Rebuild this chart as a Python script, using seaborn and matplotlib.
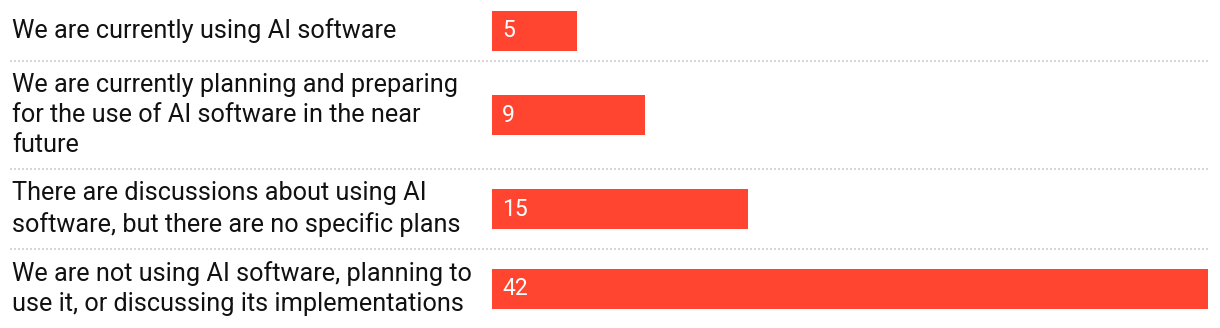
import matplotlib
matplotlib.use("Agg")
import matplotlib.pyplot as plt
import seaborn as sns
import pandas as pd
from matplotlib.lines import Line2D

categories = [
    "We are currently using AI software",
    "We are currently planning and preparing\nfor the use of AI software in the near\nfuture",
    "There are discussions about using AI\nsoftware, but there are no specific plans",
    "We are not using AI software, planning to\nuse it, or discussing its implementations",
]
values = [5, 9, 15, 42]

BAR_COLOR = "#ff4430"
SEP_COLOR = "#d6d6d6"

sns.set_theme(style="white")
plt.rcParams["font.family"] = ["Roboto", "DejaVu Sans"]

W, H = 1220, 328
fig = plt.figure(figsize=(W / 100, H / 100), dpi=100)

# row boundaries in pixels (top-down)
bounds = [0, 61, 169, 249, 328]
bar_px = 40
x0, x1 = 492, 1208
xmax = max(values)

for i, (cat, val) in enumerate(zip(categories, values)):
    top, bot = bounds[i], bounds[i + 1]
    rh = bot - top
    ax = fig.add_axes([x0 / W, 1 - bot / H, (x1 - x0) / W, rh / H])
    df = pd.DataFrame({"cat": [cat], "val": [val]})
    sns.barplot(data=df, x="val", y="cat", color=BAR_COLOR, saturation=1,
                width=bar_px / rh, ax=ax, orient="h", linewidth=0)
    ax.set_xlim(0, xmax)
    ax.set_ylim(0.5, -0.5)
    ax.axis("off")
    ax.text(10 / (x1 - x0), 0, str(val), transform=ax.get_yaxis_transform(),
            ha="left", va="center", color="white", fontsize=16.5)
    fig.text(12 / W, 1 - (top + bot) / 2 / H, cat, ha="left", va="center",
             fontsize=18.2, color="#111111", linespacing=1.33)

for yb in bounds[1:-1]:
    fig.add_artist(Line2D([10 / W, x1 / W], [1 - yb / H, 1 - yb / H],
                          transform=fig.transFigure, color=SEP_COLOR,
                          linewidth=1.44, linestyle=(0, (1, 1))))

fig.savefig("out.png", dpi=100)
